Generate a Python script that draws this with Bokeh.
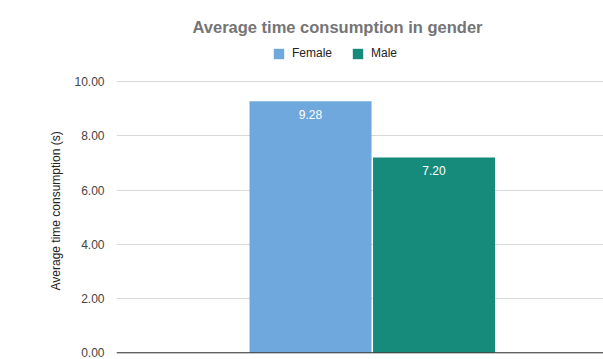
from bokeh.plotting import figure
from bokeh.models import (ColumnDataSource, Range1d, Legend, LegendItem,
                          NumeralTickFormatter, FixedTicker, Span, Title)
from bokeh.core.properties import value
from bokeh.embed import file_html
from bokeh.resources import INLINE

# Average time per gender (seconds)
genders = ["Female", "Male"]
avg_time = [9.28, 7.20]
bar_colors = ["#6fa8dc", "#178b7b"]
y_ticks = [0, 2, 4, 6, 8, 10]
chart_title = "Average time consumption in gender"
y_title = "Average time consumption (s)"

FONT = "Liberation Sans"

xs = list(range(len(genders)))
source = ColumnDataSource(dict(
    x=xs,
    gender=genders,
    avg=avg_time,
    color=bar_colors,
    label=[f"{v:.2f}" for v in avg_time],
))

# the frame reaches up far enough to hold the legend; ticks stop at 10
p = figure(
    frame_width=487, frame_height=315,
    output_backend="svg", toolbar_location=None,
    x_range=Range1d(-1.571, 2.372),
    y_range=Range1d(-0.1, 11.52),
    min_border_left=116, min_border_right=0,
    min_border_top=40, min_border_bottom=4,
)
p.background_fill_color = "white"
p.border_fill_color = "white"
p.outline_line_color = None

# title
p.title.text = chart_title
p.title.align = "left"
p.title.offset = 76
p.title.standoff = 9
p.title.text_color = "#757575"
p.title.text_font = FONT
p.title.text_font_size = "16.5px"
p.title.text_font_style = "bold"

# bars
bars = p.vbar(x="x", top="avg", bottom=0, width=0.988, source=source,
              fill_color="color", line_color=None)

# value labels inside the bars
p.text(x="x", y="avg", text="label", source=source,
       text_color="white", text_font=value(FONT), text_font_size="12px",
       text_align="center", text_baseline="middle", y_offset=13)

# axes
p.xaxis.visible = False
p.xgrid.visible = False

yax = p.yaxis[0]
yax.ticker = FixedTicker(ticks=y_ticks)
yax.formatter = NumeralTickFormatter(format="0.00")
yax.axis_line_color = None
yax.major_tick_line_color = None
yax.minor_tick_line_color = None
yax.major_label_text_font = FONT
yax.major_label_text_font_size = "12px"
yax.major_label_text_color = "#444444"
yax.major_label_standoff = 6

# y axis title, centred on the 0-10 span rather than the whole frame
p.add_layout(Title(
    text=y_title, align="left", offset=65, standoff=17,
    text_font=FONT, text_font_size="12px", text_font_style="normal",
    text_color="#222222",
), "left")

p.ygrid.ticker = FixedTicker(ticks=y_ticks)
p.ygrid.grid_line_color = "#d9d9d9"

# baseline
p.add_layout(Span(location=0, dimension="width", line_color="#333333",
                  line_width=1))

# legend inside the top strip of the frame
legend = Legend(
    items=[LegendItem(label=g, renderers=[bars], index=i)
           for i, g in enumerate(genders)],
    orientation="horizontal", location=(156, 295),
    label_text_font=FONT, label_text_font_size="12px",
    label_text_color="#222222", label_height=13,
    glyph_width=13, glyph_height=13, label_standoff=7, spacing=19,
    border_line_color=None, background_fill_alpha=0,
    padding=0, margin=0,
)
p.add_layout(legend)

open("out.html", "w").write(file_html(p, INLINE))
